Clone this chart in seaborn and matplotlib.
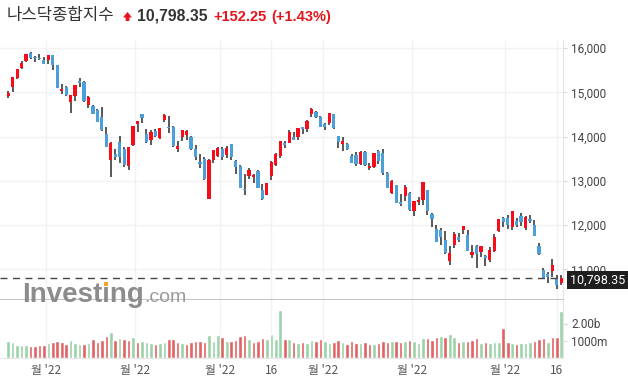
import numpy as np
import pandas as pd
import matplotlib
matplotlib.use("Agg")
import matplotlib.pyplot as plt
import seaborn as sns
from matplotlib.patches import Rectangle, Polygon

# trading days shown on the chart (NASDAQ Composite, daily)
holidays = ['2021-12-24', '2022-01-17', '2022-02-21', '2022-04-15', '2022-05-30']
dates = [d for d in pd.bdate_range('2021-12-20', '2022-06-17')
         if d.strftime('%Y-%m-%d') not in holidays]

opens = [
    14920, 15130, 15319, 15552, 15696, 15895, 15794, 15758, 15733, 15732,
    15852, 15618, 15027, 15110, 14778, 14910, 15260, 15240, 14710, 14690,
    14590, 14450, 14050, 13466, 13610, 13871, 13710, 13330, 13800, 14290,
    14500, 14050, 13930, 14115, 13960, 14380, 14225, 14210, 13730, 13990,
    14030, 14000, 13730, 13430, 13500, 12587, 13466, 13565, 13710, 13580,
    13825, 13455, 13335, 12810, 13120, 13080, 13230, 12795, 12680, 13110,
    13355, 13560, 13856, 13860, 13990, 13990, 14205, 14180, 14500, 14565,
    14450, 14285, 14315, 14500, 14015, 13830, 13830, 13565, 13580, 13370,
    13655, 13280, 13320, 13670, 13630, 13170, 12735, 12905, 12520, 12660,
    12725, 12330, 12515, 12570, 12795, 12250, 11920, 11900, 11660, 11190,
    11545, 11730, 11895, 11785, 11320, 11540, 11390, 11315, 11210, 11410,
    11860, 12160, 12165, 11950, 12100, 12200, 11930, 12145, 12010, 11540,
    10980, 10890, 10960, 10800, 10690]
highs = [
    15020, 15345, 15523, 15697, 15871, 15901, 15821, 15868, 15790, 15833,
    15852, 15619, 15195, 15150, 14943, 15157, 15319, 15260, 14913, 14720,
    14630, 14670, 14225, 13870, 13711, 14002, 13765, 13771, 14242, 14350,
    14510, 14170, 14150, 14180, 14200, 14500, 14460, 14240, 13900, 14140,
    14150, 14020, 13800, 13600, 13530, 13490, 13700, 13770, 13760, 13790,
    13840, 13470, 13350, 13150, 13280, 13160, 13250, 12940, 12950, 13440,
    13620, 13900, 13900, 14140, 14100, 14191, 14220, 14370, 14646, 14580,
    14470, 14300, 14533, 14510, 14020, 13990, 13850, 13600, 13650, 13670,
    13680, 13400, 13640, 13690, 13710, 13190, 13010, 12910, 12700, 12900,
    12760, 12540, 12640, 12975, 12800, 12270, 12000, 11940, 11860, 11530,
    11840, 11830, 11990, 11880, 11550, 11560, 11540, 11330, 11500, 11800,
    12131, 12190, 12230, 12320, 12170, 12270, 12200, 12240, 12110, 11600,
    11030, 10940, 11230, 10880, 10865]
lows = [
    14870, 15000, 15293, 15532, 15685, 15749, 15679, 15729, 15644, 15644,
    15512, 15100, 14950, 14905, 14530, 14800, 15110, 14790, 14652, 14500,
    14330, 14130, 13766, 13094, 13470, 13410, 13321, 13236, 13790, 14100,
    14300, 13850, 13820, 13990, 13950, 14330, 14070, 13760, 13655, 13900,
    13930, 13700, 13470, 13290, 13030, 12587, 13400, 13540, 13470, 13510,
    13480, 13150, 12830, 12680, 13050, 12945, 12840, 12560, 12670, 13030,
    13340, 13520, 13740, 13860, 13920, 13930, 14050, 14100, 14440, 14410,
    14220, 14150, 14270, 14170, 13740, 13680, 13690, 13400, 13340, 13360,
    13340, 13250, 13300, 13370, 13140, 12830, 12700, 12490, 12440, 12550,
    12330, 12200, 12460, 12450, 12220, 11970, 11610, 11560, 11360, 11110,
    11490, 11610, 11800, 11410, 11250, 11030, 11280, 11070, 11180, 11400,
    11840, 11950, 11920, 11890, 11970, 11990, 11900, 12040, 11750, 11330,
    10780, 10690, 10820, 10560, 10640]
closes = [
    14981, 15341, 15521, 15653, 15871, 15781, 15766, 15741, 15645, 15833,
    15622, 15100, 15080, 14936, 14942, 15153, 15200, 14806, 14893, 14506,
    14340, 14154, 13768, 13855, 13539, 13542, 13352, 13770, 14240, 14346,
    14425, 13878, 14098, 14015, 14194, 14490, 14185, 13791, 13790, 14139,
    14124, 13716, 13548, 13381, 13037, 13473, 13694, 13751, 13532, 13752,
    13537, 13313, 12830, 12795, 13255, 13129, 12843, 12581, 12948, 13436,
    13614, 13893, 13810, 14108, 13922, 14191, 14169, 14354, 14619, 14442,
    14220, 14225, 14532, 14204, 13888, 13897, 13711, 13411, 13371, 13643,
    13351, 13332, 13619, 13453, 13174, 12839, 13004, 12490, 12488, 12872,
    12335, 12536, 12563, 12965, 12318, 12145, 11623, 11738, 11365, 11371,
    11805, 11663, 11985, 11418, 11389, 11355, 11535, 11265, 11434, 11741,
    12131, 12081, 11994, 12317, 11994, 12061, 12175, 12086, 11754, 11340,
    10809, 10828, 11099, 10646, 10798.35]

# volume in billions, and its colour group (G = green, R = red)
volumes = [
    0.98, 0.92, 0.75, 0.75, 0.75, 0.69, 0.69, 0.75, 0.71, 0.86,
    0.92, 0.98, 0.92, 0.80, 1.04, 0.86, 0.80, 0.80, 0.86, 1.06,
    0.94, 1.04, 1.27, 1.51, 1.04, 1.16, 1.06, 1.04, 1.22, 0.94,
    0.98, 0.94, 0.86, 0.78, 0.86, 0.92, 1.06, 1.06, 0.92, 0.84,
    0.78, 0.92, 0.98, 0.98, 0.92, 1.33, 0.98, 1.33, 1.22, 0.98,
    0.98, 1.04, 1.27, 1.33, 1.10, 0.92, 0.98, 1.16, 1.10, 1.39,
    1.10, 2.82, 1.10, 1.10, 0.92, 0.86, 0.92, 0.86, 1.04, 0.98,
    1.10, 0.98, 0.86, 0.92, 1.04, 0.92, 0.80, 0.98, 0.86, 0.86,
    0.92, 0.80, 0.80, 0.86, 0.98, 0.92, 0.98, 0.98, 0.92, 0.98,
    1.04, 0.98, 0.86, 1.12, 1.12, 1.04, 1.22, 1.27, 1.22, 1.39,
    1.22, 0.92, 0.98, 0.98, 1.04, 1.16, 0.86, 0.92, 0.86, 0.92,
    0.92, 1.75, 0.92, 0.86, 0.80, 0.86, 0.86, 0.92, 0.98, 1.08,
    1.16, 0.92, 1.22, 1.22, 2.76]
vol_dir = list(
    "GGGGGRRRRG" "RRRRGGGRGR" "RRRGRGRRGR" "GGGRGGRRRG" "RRRRRGGGRG"
    "RRRRGRRRGG" "GGRGRGRGGR" "RGGRRGRRRG" "RRGRRRGRRG" "RGGGRRRGRG"
    "GRGRRRGRGG" "GRRGRGGGRR" "RGRRG")

tick_dates = ['2022-01-03', '2022-02-01', '2022-03-01', '2022-03-16',
              '2022-04-01', '2022-05-02', '2022-06-01', '2022-06-16']
tick_labels = ["월 '22", "월 '22", "월 '22", "16",
               "월 '22", "월 '22", "월 '22", "16"]
price_ticks = [11000, 12000, 13000, 14000, 15000, 16000]
vol_ticks = [1.0, 2.0]
vol_tick_labels = ["1000m", "2.00b"]

title_name = "나스닥종합지수"
title_price = "10,798.35"
title_change = "+152.25"
title_pct = "(+1.43%)"

UP, DOWN = '#f70d1a', '#4c9fd9'
WICK = '#2b2b2b'
VOL_G, VOL_R = '#9cd2aa', '#e06262'

W, H = 628, 389


def fx(px):
    return px / W


def fy(py):
    return 1 - py / H


sns.set_style("white")
plt.rcParams['font.family'] = ['Noto Sans CJK KR', 'DejaVu Sans']

fig = plt.figure(figsize=(W / 100, H / 100), dpi=100)
axp = fig.add_axes([0, fy(300), fx(563), (300 - 40) / H])
axv = fig.add_axes([0, fy(357.5), fx(563), (357.5 - 300) / H])

n = len(closes)
idx = np.arange(n)
o = np.array(opens, float)
c = np.array(closes, float)
body_lo = np.minimum(o, c)
body_h = np.maximum(np.abs(c - o), 30)
colors = [UP if cc >= oo else DOWN for oo, cc in zip(o, c)]

# candles
axp.vlines(idx, lows, highs, color=WICK, lw=1.1, zorder=2)
axp.bar(idx, body_h, bottom=body_lo, width=0.72, color=colors, lw=0, zorder=3)
axp.axhline(closes[-1], color='#444444', lw=1, ls=(0, (5, 4)), zorder=4)

# volume
vdf = pd.DataFrame({'idx': idx, 'vol': volumes, 'dir': vol_dir})
sns.barplot(data=vdf, x='idx', y='vol', hue='dir',
            palette={'G': VOL_G, 'R': VOL_R}, native_scale=True,
            dodge=False, width=0.8, saturation=1, legend=False,
            errorbar=None, ax=axv)

date_pos = {d.strftime('%Y-%m-%d'): i for i, d in enumerate(dates)}
tick_pos = [date_pos[d] - (0.5 if lab.startswith('월') else 0)
            for d, lab in zip(tick_dates, tick_labels)]

x_left = -8.2 / 4.46
x_right = (563 - 8.2) / 4.46
for ax in (axp, axv):
    ax.set_xlim(x_left, x_right)
    ax.set_xticks(tick_pos)
    ax.set_xlabel('')
    ax.set_ylabel('')
    ax.set_facecolor('white')
    ax.spines['top'].set_visible(False)
    ax.spines['left'].set_visible(False)
    ax.spines['right'].set_color('#e3e3e3')
    ax.yaxis.tick_right()

axp.set_ylim(10311, 16180)
axp.grid(True, color='#f2f2f2', lw=1)
axp.set_axisbelow(True)
axp.set_yticks(price_ticks)
axp.set_yticklabels([f"{v:,}" for v in price_ticks])
axp.tick_params(axis='x', length=0, labelbottom=False)
axp.tick_params(axis='y', length=3, color='#d9d9d9', pad=3,
                labelsize=8.5, labelcolor='#444444')
axp.spines['bottom'].set_color('#c6c6c6')
axp.spines['bottom'].set_linewidth(1.5)

axv.set_ylim(0, 57.5 / 17)
axv.grid(True, axis='x', color='#f2f2f2', lw=1)
axv.set_axisbelow(True)
axv.set_yticks(vol_ticks)
axv.set_yticklabels(vol_tick_labels)
axv.set_xticklabels(tick_labels)
axv.tick_params(axis='x', length=0, pad=5, labelsize=8.5, labelcolor='#555555')
axv.tick_params(axis='y', length=3, color='#d9d9d9', pad=3,
                labelsize=8.5, labelcolor='#444444')
axv.spines['bottom'].set_color('#e6e6e6')

for lab in axp.get_yticklabels() + axv.get_yticklabels():
    lab.set_family('Roboto')

# header
fig.text(fx(7), fy(19.8), title_name, fontsize=12, color='#333333',
         va='baseline')
arrow = [(123.0, 17.4), (127.5, 12.0), (132.0, 17.4), (129.4, 17.4),
         (129.4, 21.0), (125.6, 21.0), (125.6, 17.4)]
fig.add_artist(Polygon([(fx(a), fy(b)) for a, b in arrow], closed=True,
                       transform=fig.transFigure, color='#e8141e', lw=0))
fig.text(fx(137), fy(20.7), title_price, fontsize=11.3, weight='bold',
         family='Liberation Sans', color='#333333', va='baseline')
fig.text(fx(213), fy(20.7), title_change, fontsize=10.5, weight='bold',
         family='Liberation Sans', color='#e4161b', va='baseline')
fig.text(fx(271), fy(20.7), title_pct, fontsize=10.5, weight='bold',
         family='Liberation Sans', color='#e4161b', va='baseline')

# last price tag
fig.add_artist(Rectangle((fx(567), fy(289)), fx(628) - fx(567), 18 / H,
                         transform=fig.transFigure, color='#1f1f1f',
                         lw=0, zorder=10))
fig.text(fx(597.5), fy(280), title_price, color='white', ha='center',
         va='center', fontsize=9, family='Roboto', zorder=11)

# watermark
renderer = fig.canvas.get_renderer()
wm = fig.text(fx(22), fy(302), "Investing", fontsize=20, weight='bold',
              family='Liberation Sans', color='#8c8c8c', va='baseline',
              zorder=6)
bb = wm.get_window_extent(renderer)
fig.text(bb.x1 / W, fy(302), ".com", fontsize=14, family='Liberation Sans',
         color='#9a9a9a', va='baseline', zorder=6)
probe = fig.text(fx(22), fy(302), "Invest", fontsize=20, weight='bold',
                 family='Liberation Sans', va='baseline', alpha=0)
xi = probe.get_window_extent(renderer).x1
probe.remove()
fig.add_artist(Rectangle(((xi + 1.6) / W, fy(286.2)), 4.2 / W, 4.2 / H,
                         transform=fig.transFigure, color='#f5a623',
                         lw=0, zorder=7))

fig.savefig("out.png", dpi=100)
